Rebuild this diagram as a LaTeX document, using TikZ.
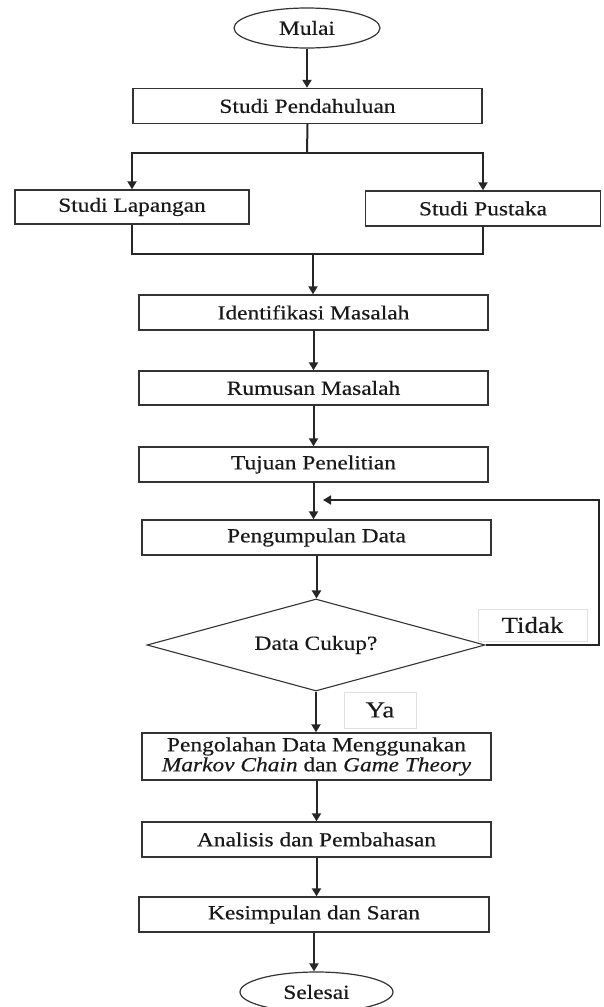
\documentclass[tikz,border=0pt]{standalone}
\usepackage{fontspec}
\setmainfont[FakeStretch=1.17, FakeBold=0.4]{Liberation Serif}
\usetikzlibrary{shapes.geometric,arrows.meta}

\begin{document}
\begin{tikzpicture}[x=1pt, y=-1pt,
    font=\fontsize{20}{20}\selectfont, text=black!90,
    kotak/.style={draw=black!80, line width=1.4pt, rectangle, inner sep=0pt,
        minimum width=349pt, minimum height=35pt},
    oval/.style={draw=black!80, line width=1.2pt, ellipse, inner sep=0pt,
        minimum width=146pt, minimum height=40pt},
    keputusan/.style={draw=black!80, line width=1.1pt, diamond, aspect=3.67,
        inner sep=0pt, minimum width=338pt, minimum height=92pt},
    jawab/.style={draw=black!12, line width=0.8pt, inner sep=0pt,
        font=\fontsize{23}{23}\selectfont},
    garis/.style={line width=2pt, black!85},
    panah/.style={garis, -{Triangle[width=9pt,length=8pt]}}]
    \useasboundingbox (0,0) rectangle (603,1007);
    \node[oval] (mulai) at (307,28) {Mulai};
    \node[kotak] (pendahuluan) at (307.5,106) {Studi Pendahuluan};
    \node[kotak, minimum width=234pt, minimum height=34pt] (lapangan) at (132,207) {Studi Lapangan};
    \node[kotak, minimum width=235pt] (pustaka) at (483,208.5) {Studi Pustaka};
    \node[kotak] (identifikasi) at (313.5,312.5) {Identifikasi Masalah};
    \node[kotak, minimum height=34pt] (rumusan) at (313.5,388) {Rumusan Masalah};
    \node[kotak] (tujuan) at (313.5,464.5) {Tujuan Penelitian};
    \node[kotak] (pengumpulan) at (316.5,537.5) {Pengumpulan Data};
    \node[keputusan] (cukup) at (316,645) {Data Cukup?};
    \node[jawab, minimum width=109pt, minimum height=32pt] (tidak) at (532.5,625) {Tidak};
    \node[jawab, minimum width=72pt, minimum height=36pt] (ya) at (380,710) {Ya};
    \node[kotak, minimum height=47pt, align=center] (pengolahan) at (316.5,756.5)
        {Pengolahan Data Menggunakan\\\textit{Markov Chain} dan \textit{Game Theory}};
    \node[kotak] (analisis) at (316.5,839.5) {Analisis dan Pembahasan};
    \node[kotak, minimum width=350pt] (kesimpulan) at (314,914.5) {Kesimpulan dan Saran};
    \node[oval, minimum width=153pt] (selesai) at (316.5,992) {Selesai};

    \coordinate (cabang) at (307,153);
    \coordinate (gabung) at (313,254);
    \coordinate (sudut) at (599,645);
    \coordinate (masuk) at (323,500);

    \draw[panah] (mulai.south) -- (mulai.south |- pendahuluan.north);
    \draw[garis] (pendahuluan.south) -- (cabang);
    \draw[panah] (cabang) -| (lapangan.north);
    \draw[panah] (cabang) -| (pustaka.north);
    \draw[garis] (lapangan.south) |- (gabung);
    \draw[garis] (pustaka.south) |- (gabung);
    \draw[panah] (gabung) -- (gabung |- identifikasi.north);
    \draw[panah] (identifikasi.south) -- (identifikasi.south |- rumusan.north);
    \draw[panah] (rumusan.south) -- (rumusan.south |- tujuan.north);
    \draw[panah] (tujuan.south) -- (tujuan.south |- pengumpulan.north);
    \draw[panah] (pengumpulan.south) -- (pengumpulan.south |- cukup.north);
    \draw[panah] (cukup.south) -- (cukup.south |- pengolahan.north);
    \draw[panah] (pengolahan.south) -- (pengolahan.south |- analisis.north);
    \draw[panah] (analisis.south) -- (analisis.south |- kesimpulan.north);
    \draw[panah] (kesimpulan.south) -- (kesimpulan.south |- selesai.north);
    \draw[panah, line width=1.5pt] (cukup.east) -- (sudut) |- (masuk);
\end{tikzpicture}
\end{document}
